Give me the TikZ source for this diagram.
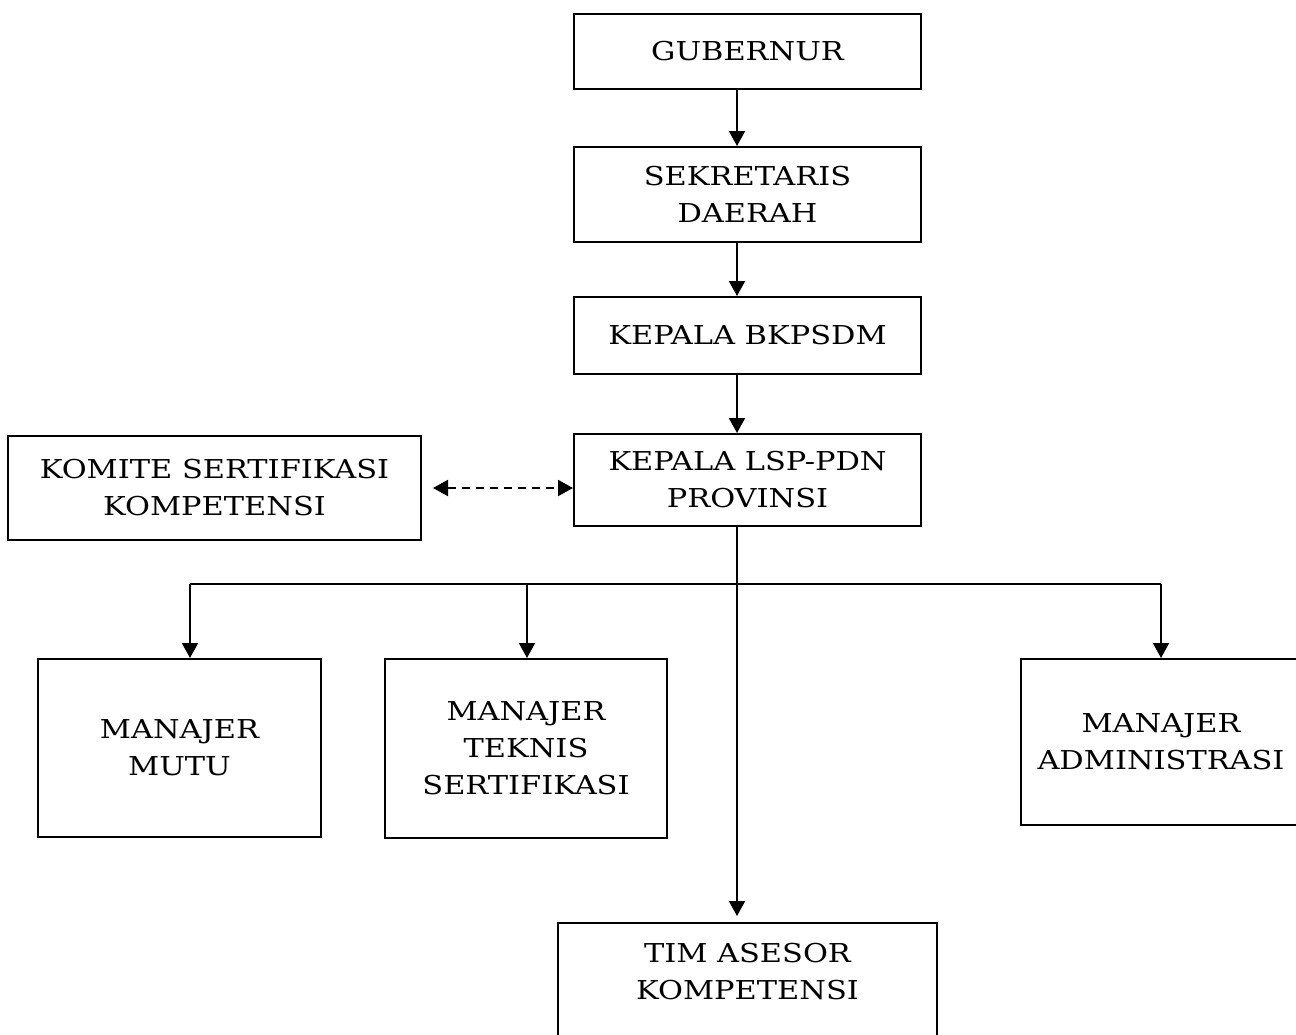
\documentclass[tikz,border=0pt]{standalone}
\usepackage{fontspec}
\setmainfont[FakeStretch=1.17]{DejaVu Serif}
\usetikzlibrary{arrows.meta}
\begin{document}
\begin{tikzpicture}[x=0.5pt,y=-0.5pt,
  box/.style={draw, line width=1pt, rectangle, inner sep=0pt, align=center,
    font=\fontsize{13}{18.5}\selectfont},
  txt/.style={inner sep=0pt, align=center, font=\fontsize{13}{18.5}\selectfont},
  conn/.style={line width=1pt, -{Triangle[length=7.5pt,width=8pt]}},
  bus/.style={line width=1pt}]
\useasboundingbox (0,0) rectangle (1296,1034);
\node[box, minimum width=173.5pt, minimum height=37.5pt] (gub) at (747.5,51.5) {GUBERNUR};
\node[box, minimum width=173.5pt, minimum height=47.5pt] (sek) at (747.5,194.5) {SEKRETARIS\\DAERAH};
\node[box, minimum width=173.5pt, minimum height=38.5pt] (bkp) at (747.5,335.5) {KEPALA BKPSDM};
\node[box, minimum width=173.5pt, minimum height=46pt] (lsp) at (747.5,480) {KEPALA LSP-PDN\\PROVINSI};
\node[box, minimum width=206.5pt, minimum height=52pt] (kom) at (214.5,488) {KOMITE SERTIFIKASI\\KOMPETENSI};
\node[box, minimum width=141.5pt, minimum height=89pt] (mutu) at (179.5,748) {MANAJER\\MUTU};
\node[box, minimum width=141pt, minimum height=89.5pt] (tek) at (526,748.5) {MANAJER\\TEKNIS\\SERTIFIKASI};
\node[box, minimum width=140pt, minimum height=83pt] (adm) at (1161,742) {MANAJER\\ADMINISTRASI};
\node[box, minimum width=189.5pt, minimum height=80pt, anchor=north] (tim) at (747.5,922) {};
\node[txt, anchor=north] (timt) at (747.5,943) {TIM ASESOR\\KOMPETENSI};
\coordinate (bl) at (190,584);
\coordinate (bt) at (527,584);
\coordinate (br) at (1161,584);
\coordinate (bm) at (737,584);
\draw[conn] (gub.south -| 737,0) -- (sek.north -| 737,0);
\draw[conn] (sek.south -| 737,0) -- (bkp.north -| 737,0);
\draw[conn] (bkp.south -| 737,0) -- (lsp.north -| 737,0);
\draw[conn] (lsp.south -| 737,0) -- ([yshift=3pt]tim.north -| 737,0);
\draw[bus] (bl) -- (br);
\draw[conn] (bl) -- (mutu.north -| bl);
\draw[conn] (bt) -- (tek.north -| bt);
\draw[conn] (br) -- (adm.north -| br);
\draw[line width=1pt, dash pattern=on 4pt off 3pt, {Triangle[length=7.5pt,width=8pt]}-{Triangle[length=7.5pt,width=8pt]}] ([xshift=5.5pt]kom.east) -- (lsp.west |- kom.east);
\end{tikzpicture}
\end{document}
